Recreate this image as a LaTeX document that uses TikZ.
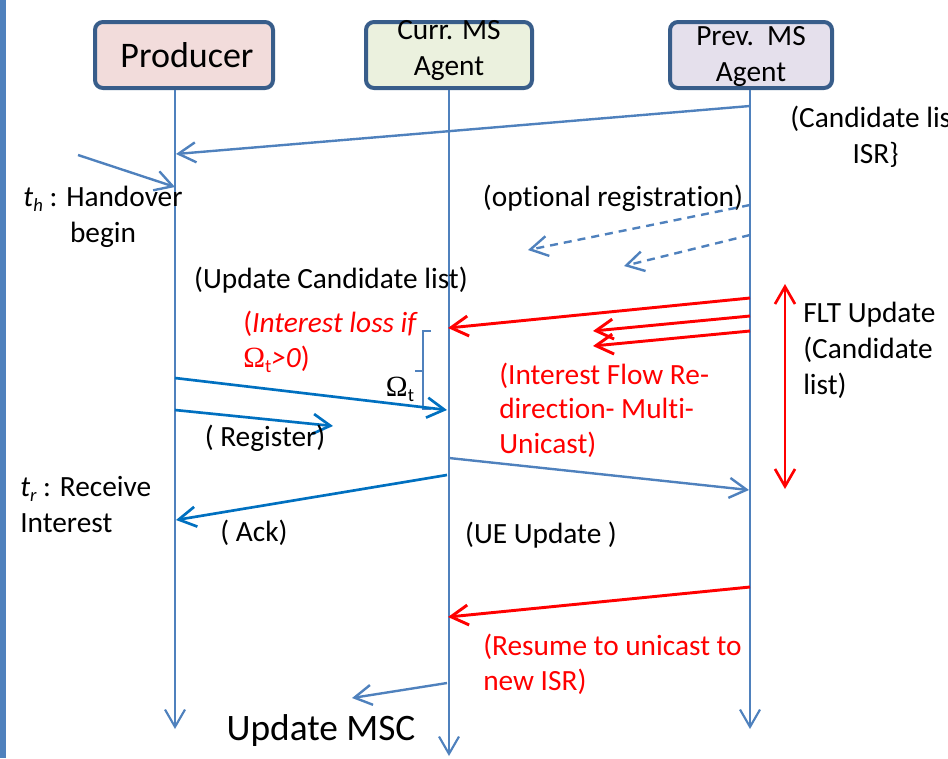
\documentclass[tikz,border=0pt]{standalone}
\usepackage{fontspec}
\setmainfont[Ligatures=NoCommon]{Carlito}
\newfontfamily\omegafont{Liberation Serif}
\usetikzlibrary{arrows.meta}
\definecolor{lifeblue}{HTML}{4F81BD}
\definecolor{msgblue}{HTML}{0070C0}
\definecolor{boxedge}{HTML}{385D8A}
\definecolor{prodfill}{HTML}{F2DCDB}
\definecolor{currfill}{HTML}{EBF1DE}
\definecolor{prevfill}{HTML}{E5E0EC}
\definecolor{flowred}{HTML}{FF0000}
\newcommand{\subsc}[1]{\raisebox{-0.35ex}{\fontsize{14}{14}\selectfont #1}}
\newcommand{\omegat}{{\omegafont\symbol{"03A9}}\subsc{t}}
\begin{document}
\begin{tikzpicture}[x=0.75pt,y=-0.75pt,
  font=\fontsize{22}{27}\selectfont,
  tipv/.style={-{Straight Barb[length=13pt,width=15pt]}},
  actor/.style={draw=boxedge,line width=3pt,rounded corners=6pt,minimum height=49.5pt,inner sep=0pt},
  lifeline/.style={draw=lifeblue,line width=1.6pt,tipv},
  lightmsg/.style={draw=lifeblue,line width=1.8pt,tipv},
  darkmsg/.style={draw=msgblue,line width=2pt,tipv},
  redmsg/.style={draw=flowred,line width=2.2pt,tipv},
  dashmsg/.style={draw=lifeblue,line width=1.8pt,dash pattern=on 6pt off 4.5pt,tipv},
  lbl/.style={inner sep=0pt,text=black},
  redlbl/.style={inner sep=0pt,text=flowred,font=\fontsize{22}{26}\selectfont},
]
\useasboundingbox (0,0) rectangle (948,758);
\clip (0,0) rectangle (948,758);

% left edge bar
\fill[lifeblue] (0,0) rectangle (6,758);

% actor boxes
\node[actor,fill=prodfill,minimum width=133.5pt] (prod) at (184,55) {};
\node[actor,fill=currfill,minimum width=124.5pt] (curr) at (449,55) {};
\node[actor,fill=prevfill,minimum width=121.5pt] (prev) at (751,55) {};
\node[lbl,font=\fontsize{27}{30}\selectfont] (prodtxt) at (187,55) {Producer};
\node[lbl,align=center] (currtxt) at (449,50) {Curr. MS\\Agent};
\node[lbl,align=center] (prevtxt) at (751,56) {Prev.\ \ MS\\Agent};

% lifelines
\coordinate (pTop) at (175,90);  \coordinate (pBot) at (175,729);
\coordinate (cTop) at (449,90);  \coordinate (cBot) at (449,756);
\coordinate (vTop) at (750,90);  \coordinate (vBot) at (750,729);
\draw[lifeline] (pTop) -- (pBot);
\draw[lifeline] (cTop) -- (cBot);
\draw[lifeline] (vTop) -- (vBot);

% candidate list from the previous agent
\coordinate (m1s) at (750,106); \coordinate (m1e) at (176,154);
\draw[lightmsg] (m1s) -- (m1e);
\node[lbl,align=center,anchor=west] (candtxt) at (790,137) {(Candidate list\\ISR\}};

% handover begins
\coordinate (hs) at (78,155); \coordinate (he) at (175,187);
\draw[lightmsg] (hs) -- (he);
\node[lbl,align=center] (thtxt) at (103,217) {\textit{t}\subsc{\itshape h} : Handover\\begin};

% optional registration
\node[lbl] (opttxt) at (613,198) {(optional registration)};
\coordinate (d1s) at (750,205); \coordinate (d1e) at (528,250);
\coordinate (d2s) at (750,235); \coordinate (d2e) at (624,266);
\draw[dashmsg] (d1s) -- (d1e);
\draw[dashmsg] (d2s) -- (d2e);

\node[lbl] (updtxt) at (331,280) {(Update Candidate list)};

% multi-unicast redirection
\coordinate (r1s) at (750,298); \coordinate (r1e) at (448,328);
\coordinate (r2s) at (750,316); \coordinate (r2e) at (593,331);
\coordinate (r3s) at (750,331); \coordinate (r3e) at (593,346);
\draw[redmsg] (r1s) -- (r1e);
\draw[redmsg] (r2s) -- (r2e);
\draw[redmsg] (r3s) -- (r3e);

% FLT update span
\coordinate (fTop) at (785,284); \coordinate (fBot) at (785,489);
\draw[draw=flowred,line width=2pt,{Straight Barb[length=13pt,width=15pt]}-{Straight Barb[length=13pt,width=15pt]}] (fTop) -- (fBot);
\node[lbl,align=left,anchor=west] (flttxt) at (803,350) {FLT Update\\(Candidate\\list)};

\node[redlbl,align=left,anchor=west] (losstxt) at (243,342)
  {(\textit{Interest loss if}\\\omegat\textit{>0})};
\node[redlbl,align=left,anchor=west] (redirtxt) at (499,410)
  {(Interest Flow Re-\\direction- Multi-\\Unicast)};

% interval bracket
\coordinate (bA) at (431,331); \coordinate (bB) at (423,331);
\coordinate (bC) at (423,409); \coordinate (bD) at (431,409);
\coordinate (bM) at (423,371); \coordinate (bT) at (415,371);
\draw[lifeblue,line width=1.2pt] (bA) -- (bB) -- (bC) -- (bD);
\draw[lifeblue,line width=1.2pt] (bM) -- (bT);
\node[lbl] (omtxt) at (400,389) {\omegat};

% producer messages
\coordinate (p1s) at (175,378); \coordinate (p1e) at (447,410);
\draw[darkmsg] (p1s) -- (p1e);
\coordinate (p2s) at (175,410); \coordinate (p2e) at (333,426);
\draw[darkmsg] (p2s) -- (p2e);
\node[lbl] (regtxt) at (265,438) {( Register)};

\coordinate (u1s) at (449,458); \coordinate (u1e) at (749,490);
\draw[lightmsg] (u1s) -- (u1e);

\coordinate (a1s) at (447,475); \coordinate (a1e) at (176,520);
\draw[darkmsg] (a1s) -- (a1e);
\node[lbl] (acktxt) at (254,533) {( Ack)};

\node[lbl,align=left,anchor=west] (trtxt) at (20,505) {\textit{t}\subsc{\itshape r} : Receive\\Interest};
\node[lbl] (uetxt) at (541,535) {(UE Update )};

% resume unicast
\coordinate (e1s) at (750,587); \coordinate (e1e) at (448,617);
\draw[redmsg] (e1s) -- (e1e);
\node[redlbl,align=left,anchor=west] (restxt) at (483,664) {(Resume to unicast to\\new ISR)};

\coordinate (q1s) at (447,683); \coordinate (q1e) at (352,698);
\draw[lightmsg] (q1s) -- (q1e);
\node[lbl,font=\fontsize{28}{32}\selectfont] (msctxt) at (321,731) {Update MSC};
\end{tikzpicture}
\end{document}
